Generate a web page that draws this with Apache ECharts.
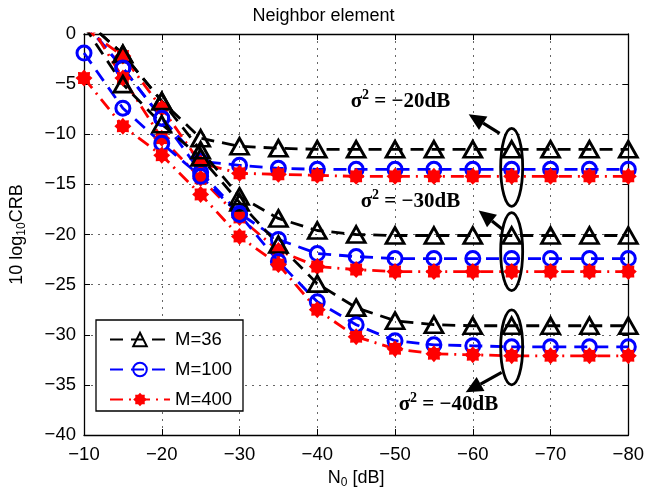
<!DOCTYPE html>
<html>
<head>
<meta charset="utf-8">
<script src="https://cdn.jsdelivr.net/npm/echarts@6/dist/echarts.min.js"></script>
<style>
  html, body { margin: 0; padding: 0; background: #fff; }
  #main { width: 647px; height: 499px; }
</style>
</head>
<body>
<div id="main"></div>
<script>
// 横轴 N0 (dB)
var xVals = [-10, -15, -20, -25, -30, -35, -40, -45, -50, -55, -60, -65, -70, -75, -80];

// sigma^2 = -20dB
var m36_s20 = [1.5, -2.0, -6.7, -10.4, -11.2, -11.4, -11.5, -11.5, -11.5, -11.5, -11.5, -11.5, -11.5, -11.5, -11.5];
var m100_s20 = [1.2, -3.4, -8.4, -12.7, -13.1, -13.4, -13.5, -13.5, -13.5, -13.5, -13.5, -13.5, -13.5, -13.5, -13.5];
var m400_s20 = [0.6, -2.2, -7.4, -12.9, -13.9, -14.0, -14.1, -14.2, -14.2, -14.2, -14.2, -14.2, -14.2, -14.2, -14.2];

// sigma^2 = -30dB
var m36_s30 = [1.5, -2.0, -6.7, -11.6, -16.2, -18.4, -19.6, -20.0, -20.1, -20.1, -20.1, -20.1, -20.1, -20.1, -20.1];
var m100_s30 = [1.2, -3.4, -8.4, -13.8, -17.9, -20.5, -21.9, -22.2, -22.4, -22.4, -22.4, -22.4, -22.4, -22.4, -22.4];
var m400_s30 = [1.9, -4.4, -10.4, -14.4, -18.3, -21.6, -23.2, -23.5, -23.7, -23.7, -23.7, -23.7, -23.7, -23.7, -23.7];

// sigma^2 = -40dB
var m36_s40 = [0.8, -5.0, -9.0, -12.3, -16.8, -21.0, -24.9, -27.3, -28.6, -29.0, -29.1, -29.1, -29.1, -29.1, -29.1];
var m100_s40 = [-1.9, -7.4, -10.9, -14.2, -18.0, -22.7, -26.7, -29.0, -30.6, -31.0, -31.1, -31.2, -31.2, -31.2, -31.2];
var m400_s40 = [-4.4, -9.2, -12.1, -16.0, -20.2, -23.0, -27.5, -30.2, -31.4, -31.9, -32.0, -32.1, -32.1, -32.1, -32.1];

var mNames = ['M=36', 'M=100', 'M=400'];
var sigmaLabels = ['−20dB', '−30dB', '−40dB'];
// 椭圆中心 (dB)
var ellipseY = [-13.3, -21.7, -31.25];
var ellipseX = -65;

function toPairs(ys) {
  return xVals.map(function (x, i) { return [x, ys[i]]; });
}

// 星号标记
function starPath() {
  var pts = [];
  for (var k = 0; k < 16; k++) {
    var a = Math.PI * 2 * k / 16;
    var r = k % 2 === 0 ? 10 : 7.4;
    pts.push((10 + r * Math.cos(a)).toFixed(2) + ',' + (10 + r * Math.sin(a)).toFixed(2));
  }
  return 'path://M' + pts.join('L') + 'Z';
}

var styles = {
  'M=36': {
    color: '#000', dash: [13, 8], symbol: 'triangle', size: [18, 16],
    item: {color: 'rgba(255,255,255,0)', borderColor: '#000', borderWidth: 2.8}
  },
  'M=100': {
    color: '#0000ff', dash: [13, 8], symbol: 'circle', size: 14,
    item: {color: 'rgba(255,255,255,0)', borderColor: '#0000ff', borderWidth: 3}
  },
  'M=400': {
    color: '#ff0000', dash: [13, 6, 2, 6], symbol: starPath(), size: 17,
    item: {color: '#ff0000', borderWidth: 0}
  }
};

function makeSeries(name, ys) {
  var s = styles[name];
  return {
    name: name,
    type: 'line',
    data: toPairs(ys),
    symbol: s.symbol,
    symbolSize: s.size,
    showAllSymbol: true,
    lineStyle: {color: s.color, width: 2.8, type: s.dash},
    itemStyle: s.item,
    emphasis: {disabled: true},
    animation: false
  };
}

var series = [
  makeSeries('M=36', m36_s20), makeSeries('M=100', m100_s20), makeSeries('M=400', m400_s20),
  makeSeries('M=36', m36_s30), makeSeries('M=100', m100_s30), makeSeries('M=400', m400_s30),
  makeSeries('M=36', m36_s40), makeSeries('M=100', m100_s40), makeSeries('M=400', m400_s40)
];

var font = '"Liberation Sans", Arial, sans-serif';
var minusFmt = function (v) { return String(v).replace('-', '−'); };
var gridLine = {show: true, lineStyle: {color: '#666', width: 1, type: [2, 5]}};
var boxLine = {show: true, onZero: false, lineStyle: {color: '#000', width: 1.3}};

var option = {
  backgroundColor: '#fff',
  animation: false,
  title: {
    text: 'Neighbor element', left: 'center', top: 2,
    textStyle: {fontFamily: font, fontSize: 18, fontWeight: 'normal', color: '#000'}
  },
  grid: {left: 83, top: 34, right: 12, bottom: 64},
  legend: {
    data: mNames, orient: 'vertical', left: 104, top: 325, z: 6,
    itemWidth: 60, itemHeight: 17, itemGap: 11,
    textStyle: {fontFamily: font, fontSize: 18.5, color: '#000'}
  },
  xAxis: [{
    type: 'value', min: -80, max: -10, interval: 10, inverse: true, position: 'bottom',
    name: 'N{sub|0} [dB]', nameLocation: 'middle', nameGap: 30,
    nameTextStyle: {
      fontFamily: font, fontSize: 18, color: '#000',
      rich: {sub: {fontFamily: font, fontSize: 12, verticalAlign: 'bottom', padding: [10, 0, 0, 0]}}
    },
    axisLine: boxLine,
    axisTick: {show: true, inside: true, length: 6, lineStyle: {color: '#000'}},
    axisLabel: {formatter: minusFmt, fontFamily: font, fontSize: 18.5, color: '#000', margin: 10},
    splitLine: gridLine
  }, {
    type: 'value', min: -80, max: -10, interval: 10, inverse: true, position: 'top',
    axisLine: boxLine,
    axisTick: {show: true, inside: true, length: 6, lineStyle: {color: '#000'}},
    axisLabel: {show: false},
    splitLine: {show: false}
  }],
  yAxis: [{
    type: 'value', min: -40, max: 0, interval: 5, position: 'left',
    name: '10 log{sub|10}CRB', nameLocation: 'middle', nameGap: 56, nameRotate: 90,
    nameTextStyle: {
      fontFamily: font, fontSize: 18, color: '#000',
      rich: {sub: {fontFamily: font, fontSize: 12, verticalAlign: 'bottom', padding: [10, 0, 0, 0]}}
    },
    axisLine: boxLine,
    axisTick: {show: true, inside: true, length: 6, lineStyle: {color: '#000'}},
    axisLabel: {formatter: minusFmt, fontFamily: font, fontSize: 18.5, color: '#000', margin: 8},
    splitLine: gridLine
  }, {
    type: 'value', min: -40, max: 0, interval: 5, position: 'right',
    axisLine: boxLine,
    axisTick: {show: true, inside: true, length: 6, lineStyle: {color: '#000'}},
    axisLabel: {show: false},
    splitLine: {show: false}
  }],
  series: series
};

var chart = echarts.init(document.getElementById('main'), null, {renderer: 'canvas'});
chart.setOption(option);

// 注释: 椭圆, 箭头, 文字
function arrow(x1, y1, x2, y2) {
  var a = Math.atan2(y2 - y1, x2 - x1);
  var len = 17, half = 8;
  var bx = x2 - len * Math.cos(a), by = y2 - len * Math.sin(a);
  var px = -Math.sin(a) * half, py = Math.cos(a) * half;
  return [{
    type: 'line', silent: true,
    shape: {x1: x1, y1: y1, x2: bx, y2: by},
    style: {stroke: '#000', lineWidth: 3.2}
  }, {
    type: 'polygon', silent: true,
    shape: {points: [[x2, y2], [bx + px, by + py], [bx - px, by - py]]},
    style: {fill: '#000'}
  }];
}

var ry = [39, 39, 37.5];
// 箭头相对椭圆中心的偏移
var arrowOff = [[-12, -34, -43, -53], [-9, -22, -33, -41], [-10, 25, -46, 45]];
var textOff = [[-161, -66], [-151, -50], [-113, 57]];
var graphics = [
  {
    type: 'rect', silent: true, z: 5,
    shape: {x: 96, y: 320, width: 147, height: 91},
    style: {fill: '#fff', stroke: '#000', lineWidth: 1.3}
  }
];
for (var i = 0; i < ellipseY.length; i++) {
  var c = chart.convertToPixel({xAxisIndex: 0, yAxisIndex: 0}, [ellipseX, ellipseY[i]]);
  graphics.push({
    type: 'ellipse', silent: true, z: 10,
    shape: {cx: c[0], cy: c[1], rx: 11, ry: ry[i]},
    style: {fill: 'none', stroke: '#000', lineWidth: 2.8}
  });
  var o = arrowOff[i];
  arrow(c[0] + o[0], c[1] + o[1], c[0] + o[2], c[1] + o[3]).forEach(function (g) {
    g.z = 10;
    graphics.push(g);
  });
  graphics.push({
    type: 'text', silent: true, z: 10,
    x: c[0] + textOff[i][0], y: c[1] + textOff[i][1],
    style: {
      text: '{s|σ}{sup|2}{s| = ' + sigmaLabels[i] + '}',
      verticalAlign: 'middle',
      rich: {
        s: {font: 'bold 21px "Liberation Serif", serif', fill: '#000', lineHeight: 26},
        sup: {font: 'bold 14px "Liberation Serif", serif', fill: '#000', verticalAlign: 'top'}
      }
    }
  });
}
chart.setOption({graphic: graphics});
</script>
</body>
</html>
